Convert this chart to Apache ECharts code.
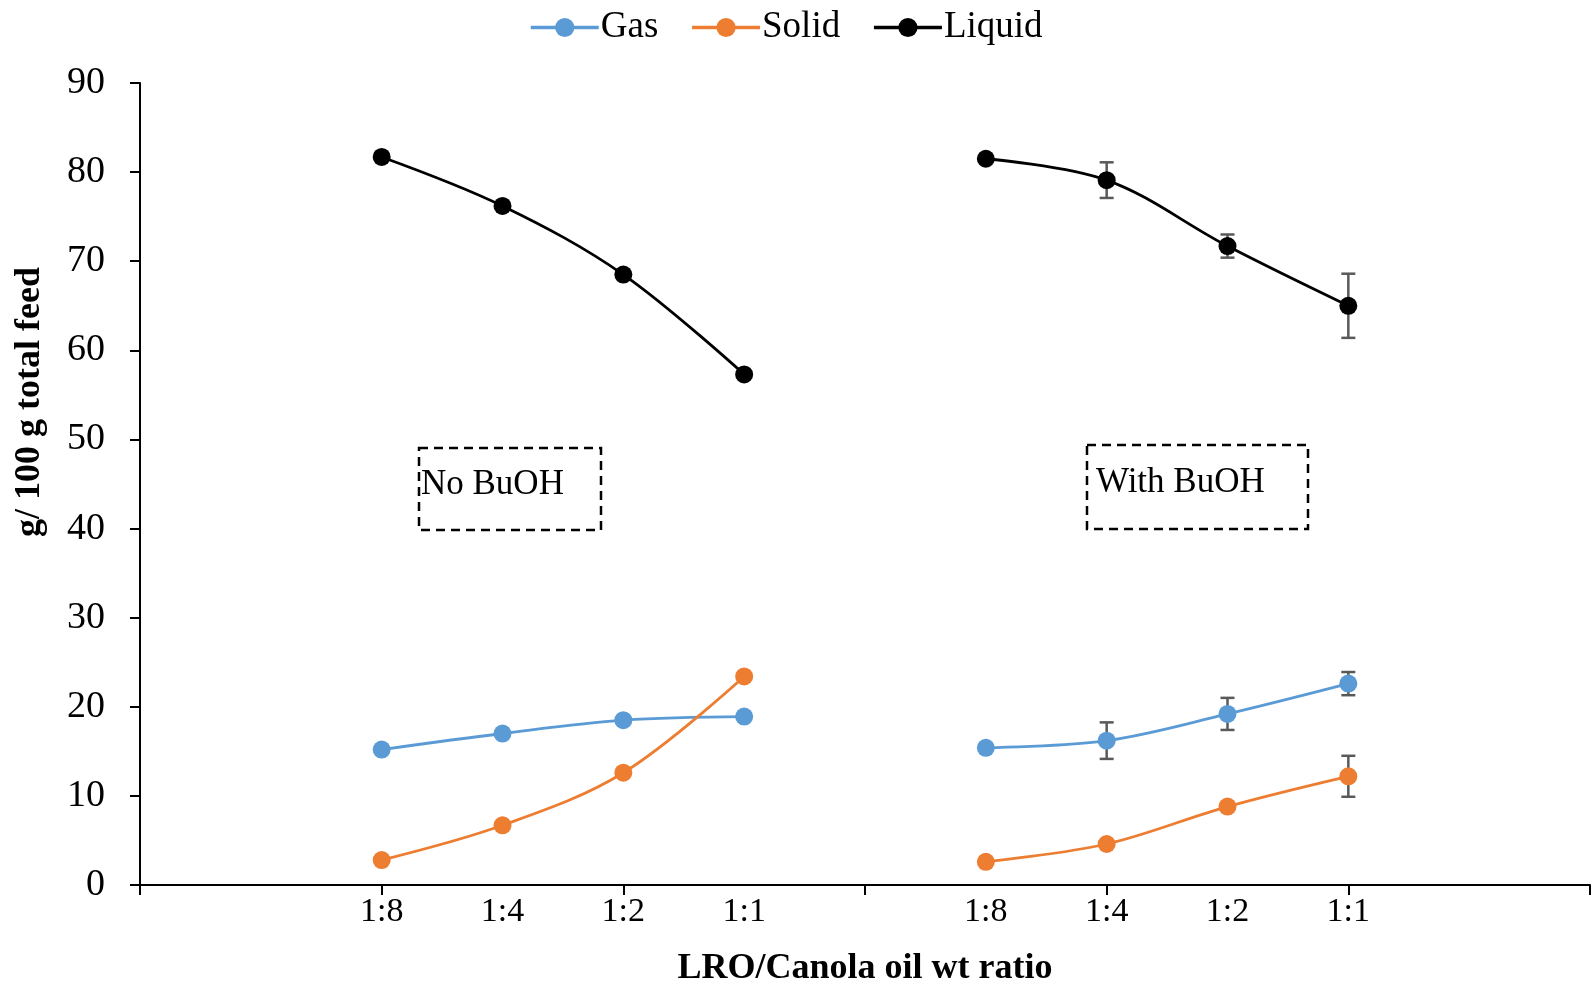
<!DOCTYPE html>
<html>
<head>
<meta charset="utf-8">
<script src="https://cdn.jsdelivr.net/npm/echarts@6/dist/echarts.min.js"></script>
<style>
  html, body { margin: 0; padding: 0; background: #fff; }
  #chart { width: 1595px; height: 987px; }
</style>
</head>
<body>
<div id="chart"></div>
<script>
// ratio groups, left = no BuOH, right = with BuOH
const groups = ['1:8', '1:4', '1:2', '1:1']
const gasNo = [15.2, 17.0, 18.5, 18.9]
const gasWith = [15.4, 16.2, 19.2, 22.6]
const solidNo = [2.8, 6.7, 12.6, 23.4]
const solidWith = [2.6, 4.6, 8.8, 12.2]
const liquidNo = [81.7, 76.2, 68.5, 57.3]
const liquidWith = [81.5, 79.1, 71.7, 65.0]
// error bars (with BuOH only)
const gasErr = [0, 2.05, 1.8, 1.3]
const solidErr = [0, 0, 0, 2.3]
const liquidErr = [0, 2.0, 1.3, 3.6]

const font = 'Liberation Serif'
const cats = ['', ''].concat(groups, [''], groups, ['', ''])

function row (no, withB) {
  return [null, null].concat(no, [null], withB, [null, null])
}
function errRows (vals, errs) {
  const out = []
  errs.forEach((e, i) => {
    if (e > 0) out.push([7 + i, vals[i] - e, vals[i] + e])
  })
  return out
}

function lineSeries (name, color, data) {
  return {
    name: name,
    type: 'line',
    data: data,
    smooth: 0.35,
    symbol: 'circle',
    symbolSize: 18,
    z: 3,
    lineStyle: { color: color, width: 2.8 },
    itemStyle: { color: color }
  }
}

function errSeries (data) {
  return {
    type: 'custom',
    z: 2,
    silent: true,
    data: data,
    encode: { x: 0, y: [1, 2] },
    renderItem: (params, api) => {
      const lo = api.coord([api.value(0), api.value(1)])
      const hi = api.coord([api.value(0), api.value(2)])
      const w = 7
      const style = { stroke: '#595959', lineWidth: 2.5 }
      return {
        type: 'group',
        children: [
          { type: 'line', shape: { x1: lo[0], y1: lo[1], x2: hi[0], y2: hi[1] }, style: style },
          { type: 'line', shape: { x1: lo[0] - w, y1: lo[1], x2: lo[0] + w, y2: lo[1] }, style: style },
          { type: 'line', shape: { x1: hi[0] - w, y1: hi[1], x2: hi[0] + w, y2: hi[1] }, style: style }
        ]
      }
    }
  }
}

const myChart = echarts.init(document.getElementById('chart'))
myChart.setOption({
  animation: false,
  backgroundColor: '#fff',
  legend: {
    left: 524,
    top: 4,
    itemWidth: 68,
    itemHeight: 24,
    itemGap: 32,
    lineStyle: { width: 3.5 },
    textStyle: { fontFamily: font, fontSize: 37, color: '#000', padding: [0, 0, 0, -3] },
    data: ['Gas', 'Solid', 'Liquid']
  },
  grid: { left: 140, right: 5, top: 83, bottom: 102, outerBoundsMode: 'none' },
  xAxis: {
    type: 'category',
    data: cats,
    boundaryGap: false,
    name: 'LRO/Canola oil wt ratio',
    nameLocation: 'middle',
    nameGap: 66,
    nameTextStyle: { fontFamily: font, fontSize: 36, fontWeight: 'bold', color: '#000' },
    axisLine: { lineStyle: { color: '#000', width: 2 } },
    axisTick: {
      interval: (i) => i % 2 === 0,
      length: 10,
      lineStyle: { color: '#000', width: 2 }
    },
    axisLabel: {
      interval: 0,
      margin: 10,
      fontFamily: font,
      fontSize: 34,
      color: '#000'
    },
    splitLine: { show: false }
  },
  yAxis: {
    type: 'value',
    min: 0,
    max: 90,
    interval: 10,
    axisLine: { show: true, lineStyle: { color: '#000', width: 2 } },
    axisTick: { show: true, length: 10, lineStyle: { color: '#000', width: 2 } },
    axisLabel: { margin: 35, fontFamily: font, fontSize: 38, color: '#000' },
    splitLine: { show: false }
  },
  graphic: [
    {
      type: 'text',
      x: 30,
      y: 402,
      rotation: Math.PI / 2,
      style: {
        text: 'g/ 100 g total feed',
        font: 'bold 36px "Liberation Serif"',
        fill: '#000',
        align: 'center',
        verticalAlign: 'middle'
      }
    },
    {
      type: 'rect',
      shape: { x: 419, y: 448, width: 182, height: 82 },
      style: { fill: 'none', stroke: '#000', lineWidth: 2.5, lineDash: [9, 6] }
    },
    {
      type: 'text',
      x: 421,
      y: 485,
      style: {
        text: 'No BuOH',
        font: '35px "Liberation Serif"',
        fill: '#000',
        verticalAlign: 'middle'
      }
    },
    {
      type: 'rect',
      shape: { x: 1087, y: 445, width: 221, height: 84 },
      style: { fill: 'none', stroke: '#000', lineWidth: 2.5, lineDash: [9, 6] }
    },
    {
      type: 'text',
      x: 1096,
      y: 483,
      style: {
        text: 'With BuOH',
        font: '35px "Liberation Serif"',
        fill: '#000',
        verticalAlign: 'middle'
      }
    }
  ],
  series: [
    lineSeries('Gas', '#5B9BD5', row(gasNo, gasWith)),
    lineSeries('Solid', '#ED7D31', row(solidNo, solidWith)),
    lineSeries('Liquid', '#000000', row(liquidNo, liquidWith)),
    errSeries(errRows(gasWith, gasErr)),
    errSeries(errRows(solidWith, solidErr)),
    errSeries(errRows(liquidWith, liquidErr))
  ]
})
</script>
</body>
</html>
